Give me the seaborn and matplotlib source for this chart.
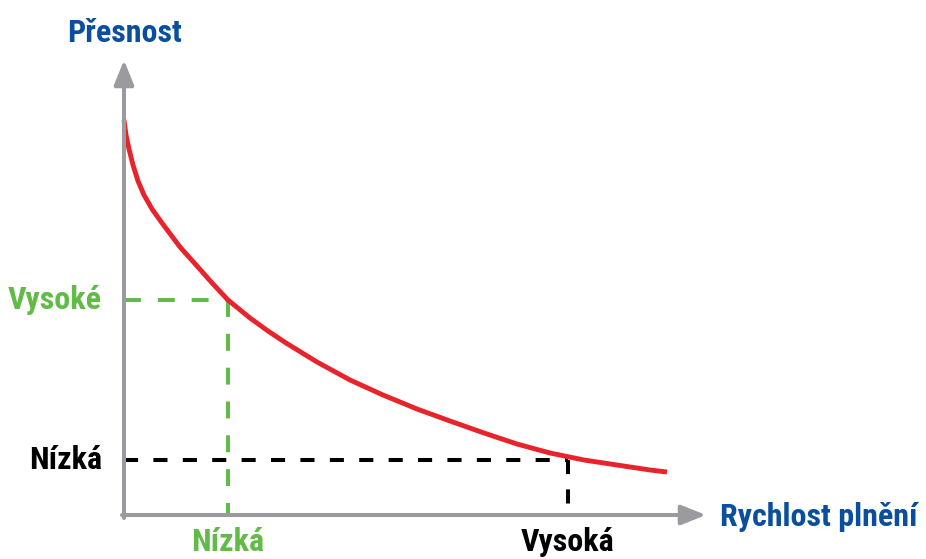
import pandas as pd
import numpy as np
import seaborn as sns
import matplotlib.pyplot as plt
from matplotlib import font_manager

sns.set_theme(style="white")
# pick a condensed bold face if one is installed
candidates = ['Roboto Condensed', 'Barlow Condensed', 'Archivo Narrow', 'PT Sans Narrow', 'Liberation Sans Narrow']
installed = {f.name for f in font_manager.fontManager.ttflist}
plt.rcParams['font.family'] = [c for c in candidates if c in installed][:1] + ['DejaVu Sans']

# curve (speed -> accuracy, arbitrary units)
speed = [0, 2, 5, 9, 14, 20, 28, 38, 56, 73, 89, 104, 126, 144, 162, 193, 226, 259, 293, 326, 360, 393, 426, 460, 493, 526, 543]
accuracy = [395, 380, 366, 350, 334, 320, 306, 292, 268, 249, 231, 215, 197, 184, 172, 153, 135, 120, 106, 94, 82, 71, 62, 55, 50, 45, 43]

# guide points: (low speed, high accuracy) and (high speed, low accuracy)
guide_x = [104, 444]
guide_y = [215, 55]
guide_colors = ['#62bb46', 'black']
x_labels = ['Nízká', 'Vysoká']
y_labels = ['Vysoké', 'Nízká']

axis_gray = '#9b9b9f'
blue = '#0a4f9e'
red = '#e8232b'

fig = plt.figure(figsize=(9.26, 5.59), dpi=100)
ax = fig.add_axes([0, 0, 1, 1])

# dashed guides
dash_styles = [(0, (4.2, 4.2)), (0, (3.5, 3.8))]
for gx, gy, c, ds in zip(guide_x, guide_y, guide_colors, dash_styles):
    ax.plot([0, gx], [gy, gy], color=c, lw=2.9, linestyle=ds, dash_capstyle='butt')
    ax.plot([gx, gx], [gy, 0], color=c, lw=2.9, linestyle=ds, dash_capstyle='butt')

# axes with arrows
arrow = dict(arrowstyle='-|>,head_length=0.75,head_width=0.3', color=axis_gray,
             lw=2.9, mutation_scale=20, shrinkA=0, shrinkB=0)
ax.annotate('', xy=(0, 455), xytext=(0, -3), arrowprops=arrow)
ax.annotate('', xy=(582, 0), xytext=(-2, 0), arrowprops=arrow)

# curve
df = pd.DataFrame({'speed': speed, 'accuracy': accuracy})
sns.lineplot(data=df, x='speed', y='accuracy', color=red, lw=3.5, ax=ax, sort=False,
             solid_joinstyle='round', solid_capstyle='butt')
ax.set_xlim(-124, 802)
ax.set_ylim(-44, 515)
ax.axis('off')

fs = 23
ax.text(1, 482, 'Přesnost', color=blue, fontsize=fs, fontweight='bold', ha='center', va='center')
ax.text(596, -2.5, 'Rychlost plnění', color=blue, fontsize=fs, fontweight='bold', ha='left', va='center')
for gx, gy, c, xl, yl in zip(guide_x, guide_y, guide_colors, x_labels, y_labels):
    ax.text(-22, gy, yl, color=c, fontsize=fs, fontweight='bold', ha='right', va='center')
    ax.text(gx, -27, xl, color=c, fontsize=fs, fontweight='bold', ha='center', va='center')

fig.savefig('out.png', dpi=100)
